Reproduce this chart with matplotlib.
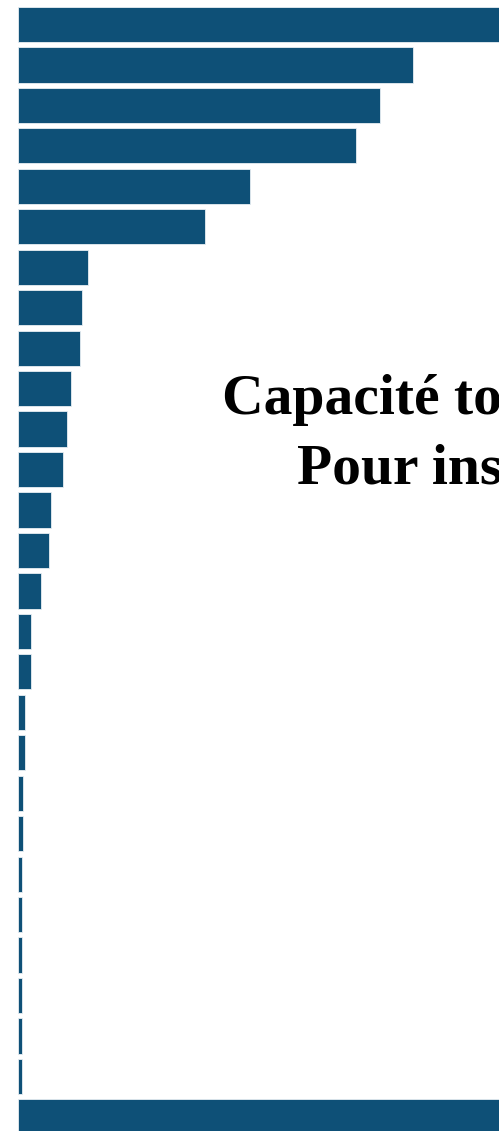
import matplotlib
matplotlib.use("Agg")
import matplotlib.pyplot as plt
import numpy as np

# Data (arbitrary capacity units)
categories = [f"Cat {i+1}" for i in range(28)]
capacity = [620, 395, 362, 338, 232, 187, 70, 64, 62, 53, 49, 45, 33, 31, 23,
            13, 13, 7, 7, 5, 5, 4, 4, 4, 4, 4, 4, 700]
title_line1 = "Capacité to"
title_line2 = "Pour ins"

W, H = 499, 1131
fig = plt.figure(figsize=(W / 100, H / 100), dpi=100)
ax = fig.add_axes([18 / W, 0, 1 - 18 / W, 1])

pos = np.arange(len(categories))
ax.barh(pos, capacity, height=0.87, color="#0e5077", edgecolor="#e8eef3",
        linewidth=0.6)
ax.set_xlim(0, 481)
step = 40.46
top = -24.5 / step
ax.set_ylim(top + H / step, top)
ax.axis("off")

fig.text(222 / W, 1 - 414 / H, title_line1, ha="left", va="baseline",
         fontsize=41.5, fontweight="bold", family="Liberation Serif")
fig.text(297 / W, 1 - 484 / H, title_line2, ha="left", va="baseline",
         fontsize=41.5, fontweight="bold", family="Liberation Serif")

fig.savefig("out.png", dpi=100)
